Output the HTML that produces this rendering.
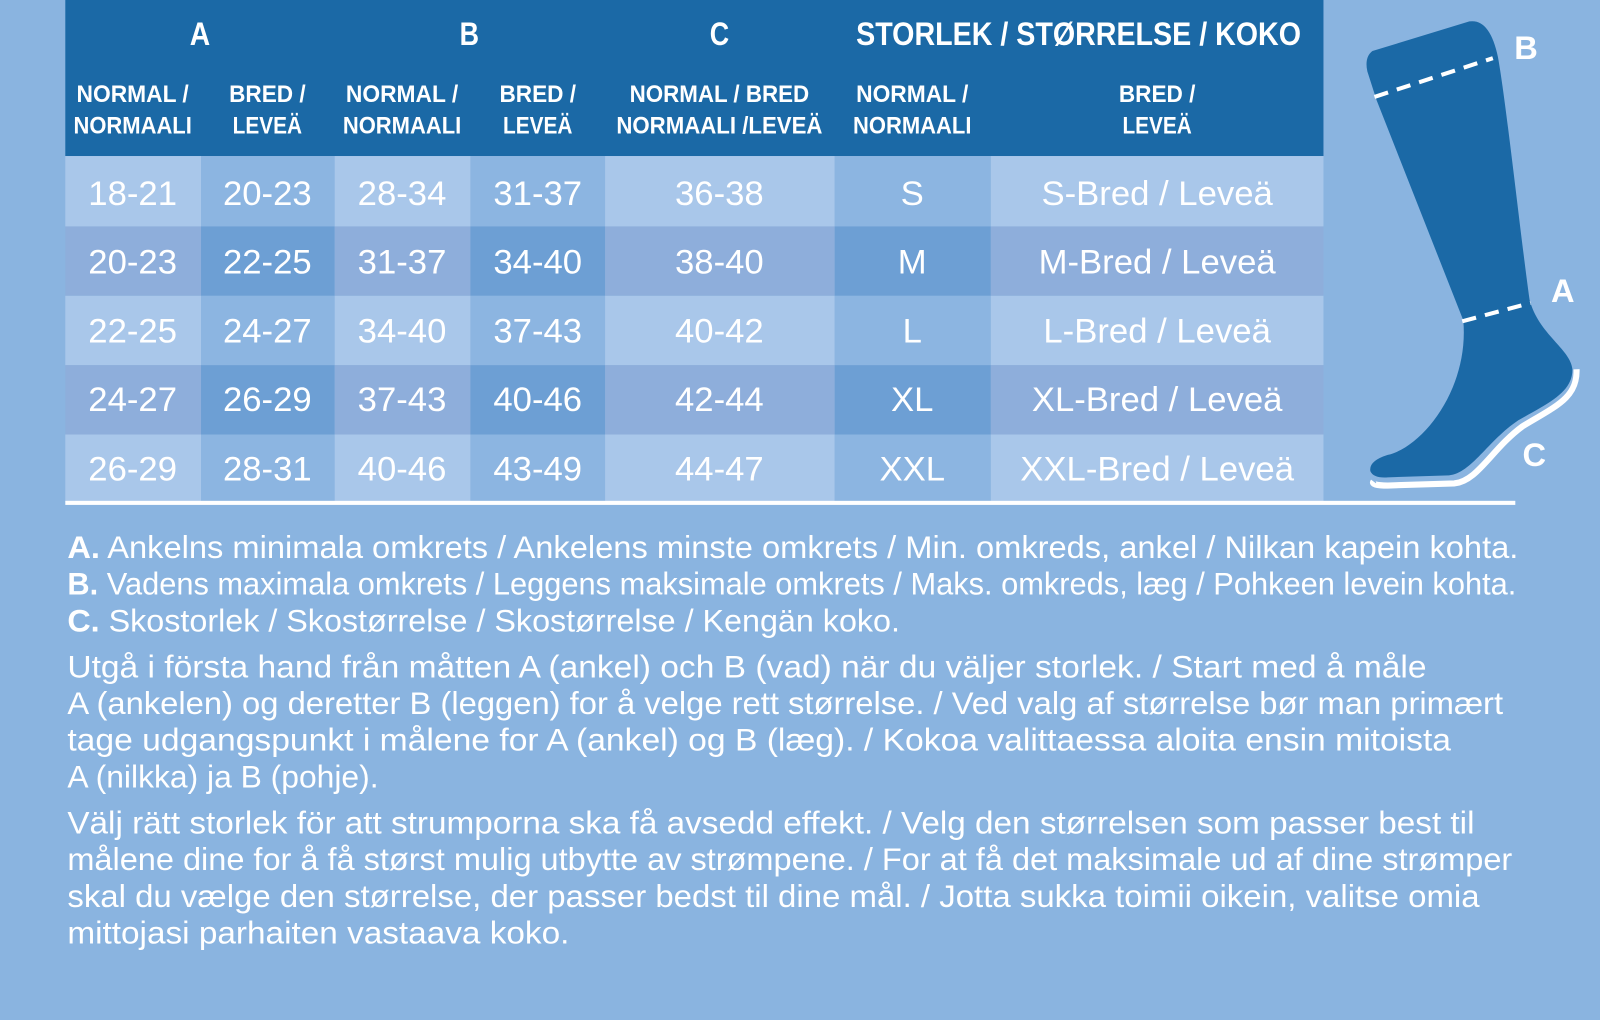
<!DOCTYPE html>
<html><head><meta charset="utf-8"><style>
html,body{margin:0;padding:0;background:#8ab4e0;overflow:hidden}
svg{display:block}
</style></head><body>
<svg width="1600" height="1020" viewBox="0 0 1568 1000" preserveAspectRatio="none" xmlns="http://www.w3.org/2000/svg">
<rect width="1568" height="1000" fill="#8ab4e0"/>
<rect x="64" y="0" width="1233" height="153" fill="#1b69a6"/>
<g>
<rect x="64" y="153" width="133" height="69" fill="#a9c7ea"/><rect x="197" y="153" width="131" height="69" fill="#8cb5e1"/><rect x="328" y="153" width="133" height="69" fill="#a9c7ea"/><rect x="461" y="153" width="132" height="69" fill="#8cb5e1"/><rect x="593" y="153" width="225" height="69" fill="#a9c7ea"/><rect x="818" y="153" width="153" height="69" fill="#8cb5e1"/><rect x="971" y="153" width="326" height="69" fill="#a9c7ea"/>
<rect x="64" y="222" width="133" height="68" fill="#8eaedb"/><rect x="197" y="222" width="131" height="68" fill="#6d9fd4"/><rect x="328" y="222" width="133" height="68" fill="#8eaedb"/><rect x="461" y="222" width="132" height="68" fill="#6d9fd4"/><rect x="593" y="222" width="225" height="68" fill="#8eaedb"/><rect x="818" y="222" width="153" height="68" fill="#6d9fd4"/><rect x="971" y="222" width="326" height="68" fill="#8eaedb"/>
<rect x="64" y="290" width="133" height="68" fill="#a9c7ea"/><rect x="197" y="290" width="131" height="68" fill="#8cb5e1"/><rect x="328" y="290" width="133" height="68" fill="#a9c7ea"/><rect x="461" y="290" width="132" height="68" fill="#8cb5e1"/><rect x="593" y="290" width="225" height="68" fill="#a9c7ea"/><rect x="818" y="290" width="153" height="68" fill="#8cb5e1"/><rect x="971" y="290" width="326" height="68" fill="#a9c7ea"/>
<rect x="64" y="358" width="133" height="68" fill="#8eaedb"/><rect x="197" y="358" width="131" height="68" fill="#6d9fd4"/><rect x="328" y="358" width="133" height="68" fill="#8eaedb"/><rect x="461" y="358" width="132" height="68" fill="#6d9fd4"/><rect x="593" y="358" width="225" height="68" fill="#8eaedb"/><rect x="818" y="358" width="153" height="68" fill="#6d9fd4"/><rect x="971" y="358" width="326" height="68" fill="#8eaedb"/>
<rect x="64" y="426" width="133" height="66" fill="#a9c7ea"/><rect x="197" y="426" width="131" height="66" fill="#8cb5e1"/><rect x="328" y="426" width="133" height="66" fill="#a9c7ea"/><rect x="461" y="426" width="132" height="66" fill="#8cb5e1"/><rect x="593" y="426" width="225" height="66" fill="#a9c7ea"/><rect x="818" y="426" width="153" height="66" fill="#8cb5e1"/><rect x="971" y="426" width="326" height="66" fill="#a9c7ea"/>
</g>
<rect x="64" y="491" width="1421" height="4" fill="#fff"/>
<g fill="#fff" font-family="'Liberation Sans Narrow','Liberation Sans',sans-serif" font-weight="bold" text-anchor="middle">
<text x="196" y="44" font-size="32" textLength="20" lengthAdjust="spacingAndGlyphs">A</text>
<text x="460" y="44" font-size="32" textLength="19" lengthAdjust="spacingAndGlyphs">B</text>
<text x="705" y="44" font-size="32" textLength="19" lengthAdjust="spacingAndGlyphs">C</text>
<text x="1057" y="44" font-size="32" textLength="436" lengthAdjust="spacingAndGlyphs">STORLEK / STØRRELSE / KOKO</text>
<g font-size="24" lengthAdjust="spacingAndGlyphs">
<text x="130" y="100" textLength="110" lengthAdjust="spacingAndGlyphs">NORMAL /</text><text x="130" y="131" textLength="116" lengthAdjust="spacingAndGlyphs">NORMAALI</text>
<text x="262" y="100" textLength="75" lengthAdjust="spacingAndGlyphs">BRED /</text><text x="262" y="131" textLength="68" lengthAdjust="spacingAndGlyphs">LEVEÄ</text>
<text x="394" y="100" textLength="110" lengthAdjust="spacingAndGlyphs">NORMAL /</text><text x="394" y="131" textLength="116" lengthAdjust="spacingAndGlyphs">NORMAALI</text>
<text x="527" y="100" textLength="75" lengthAdjust="spacingAndGlyphs">BRED /</text><text x="527" y="131" textLength="68" lengthAdjust="spacingAndGlyphs">LEVEÄ</text>
<text x="705" y="100" textLength="176" lengthAdjust="spacingAndGlyphs">NORMAL / BRED</text><text x="705" y="131" textLength="202" lengthAdjust="spacingAndGlyphs">NORMAALI /LEVEÄ</text>
<text x="894" y="100" textLength="110" lengthAdjust="spacingAndGlyphs">NORMAL /</text><text x="894" y="131" textLength="116" lengthAdjust="spacingAndGlyphs">NORMAALI</text>
<text x="1134" y="100" textLength="75" lengthAdjust="spacingAndGlyphs">BRED /</text><text x="1134" y="131" textLength="68" lengthAdjust="spacingAndGlyphs">LEVEÄ</text>
</g>
</g>
<g fill="#fff" font-family="'Liberation Sans',sans-serif" font-size="34" text-anchor="middle">
<text x="130" y="201">18-21</text><text x="262" y="201">20-23</text><text x="394" y="201">28-34</text><text x="527" y="201">31-37</text><text x="705" y="201">36-38</text><text x="894" y="201">S</text><text x="1134" y="201">S-Bred / Leveä</text>
<text x="130" y="268">20-23</text><text x="262" y="268">22-25</text><text x="394" y="268">31-37</text><text x="527" y="268">34-40</text><text x="705" y="268">38-40</text><text x="894" y="268">M</text><text x="1134" y="268">M-Bred / Leveä</text>
<text x="130" y="336">22-25</text><text x="262" y="336">24-27</text><text x="394" y="336">34-40</text><text x="527" y="336">37-43</text><text x="705" y="336">40-42</text><text x="894" y="336">L</text><text x="1134" y="336">L-Bred / Leveä</text>
<text x="130" y="403">24-27</text><text x="262" y="403">26-29</text><text x="394" y="403">37-43</text><text x="527" y="403">40-46</text><text x="705" y="403">42-44</text><text x="894" y="403">XL</text><text x="1134" y="403">XL-Bred / Leveä</text>
<text x="130" y="471">26-29</text><text x="262" y="471">28-31</text><text x="394" y="471">40-46</text><text x="527" y="471">43-49</text><text x="705" y="471">44-47</text><text x="894" y="471">XXL</text><text x="1134" y="471">XXL-Bred / Leveä</text>
</g>
<path d="M1346,472 Q1343,476 1360,476 L1425,474 C1448,472 1462,440 1492,418 C1525,398 1546,390 1545,362" fill="none" stroke="#fff" stroke-width="6"/>
<path d="M1345,50 Q1337,56 1340,70 L1349,98 L1434,314 C1440,380 1395,438 1360,446 Q1341,452 1343,462 Q1346,469 1360,468 L1420,466 C1442,464 1458,432 1488,412 C1520,394 1541,384 1541,362 C1539,342 1508,328 1499,294 C1490,230 1476,100 1468,56 Q1460,18 1440,21 Z" fill="#1b69a6"/>
<line x1="1347" y1="95" x2="1463" y2="57" stroke="#fff" stroke-width="4" stroke-dasharray="14,9"/>
<line x1="1433" y1="315" x2="1500" y2="297" stroke="#fff" stroke-width="4" stroke-dasharray="14,9"/>
<g fill="#fff" font-family="'Liberation Sans Narrow','Liberation Sans',sans-serif" font-weight="bold" font-size="32">
<text x="1484" y="58">B</text><text x="1520" y="296">A</text><text x="1492" y="457">C</text>
</g>
<g fill="#fff" font-family="'Liberation Sans',sans-serif" font-size="31">
<text x="66" y="547" textLength="1422" lengthAdjust="spacingAndGlyphs"><tspan font-weight="bold">A.</tspan> Ankelns minimala omkrets / Ankelens minste omkrets / Min. omkreds, ankel / Nilkan kapein kohta.</text>
<text x="66" y="583" textLength="1420" lengthAdjust="spacingAndGlyphs"><tspan font-weight="bold">B.</tspan> Vadens maximala omkrets / Leggens maksimale omkrets / Maks. omkreds, læg / Pohkeen levein kohta.</text>
<text x="66" y="619" textLength="816" lengthAdjust="spacingAndGlyphs"><tspan font-weight="bold">C.</tspan> Skostorlek / Skostørrelse / Skostørrelse / Kengän koko.</text>
<text x="66" y="664" textLength="1332" lengthAdjust="spacingAndGlyphs">Utgå i första hand från måtten A (ankel) och B (vad) när du väljer storlek. / Start med å måle</text>
<text x="66" y="700" textLength="1407" lengthAdjust="spacingAndGlyphs">A (ankelen) og deretter B (leggen) for å velge rett størrelse. / Ved valg af størrelse bør man primært</text>
<text x="66" y="736" textLength="1356" lengthAdjust="spacingAndGlyphs">tage udgangspunkt i målene for A (ankel) og B (læg). / Kokoa valittaessa aloita ensin mitoista</text>
<text x="66" y="772" textLength="305" lengthAdjust="spacingAndGlyphs">A (nilkka) ja B (pohje).</text>
<text x="66" y="817" textLength="1379" lengthAdjust="spacingAndGlyphs">Välj rätt storlek för att strumporna ska få avsedd effekt. / Velg den størrelsen som passer best til</text>
<text x="66" y="853" textLength="1416" lengthAdjust="spacingAndGlyphs">målene dine for å få størst mulig utbytte av strømpene. / For at få det maksimale ud af dine strømper</text>
<text x="66" y="889" textLength="1384" lengthAdjust="spacingAndGlyphs">skal du vælge den størrelse, der passer bedst til dine mål. / Jotta sukka toimii oikein, valitse omia</text>
<text x="66" y="925" textLength="492" lengthAdjust="spacingAndGlyphs">mittojasi parhaiten vastaava koko.</text>
</g>
</svg>
</body></html>
